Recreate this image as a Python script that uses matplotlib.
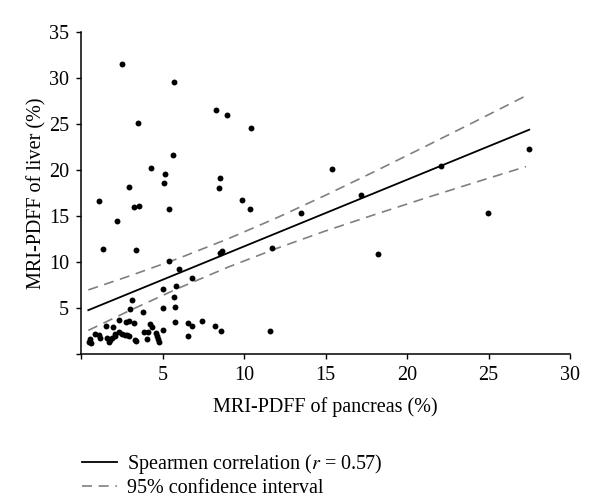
import numpy as np
import matplotlib
matplotlib.use("Agg")
import matplotlib.pyplot as plt

plt.rcParams['font.family'] = ['Liberation Serif', 'DejaVu Serif']
plt.rcParams['mathtext.fontset'] = 'stix'

# scatter points (pancreas %, liver %)
pancreas = [2.5, 5.72, 8.26, 8.94, 10.4, 3.5, 5.64, 4.3, 5.17, 5.07, 8.5, 8.47, 2.92,
            1.08, 3.25, 3.56, 5.4, 9.88, 10.35, 2.2, 15.38, 13.5, 17.2, 22.1, 27.5,
            24.97, 18.2, 11.7, 11.6,
            1.33, 3.36, 5.4, 6.0, 8.5, 8.62, 6.82, 5.0, 5.84, 3.13, 2.98, 3.83, 5.0,
            5.69, 5.79,
            2.33, 1.55, 1.96, 2.77, 2.95, 3.28, 4.26, 4.38, 5.76, 6.57, 6.78, 7.41,
            8.22, 8.56, 6.57, 5.06, 3.85, 4.12, 4.03, 3.3, 3.4, 2.35, 2.5, 2.68, 2.82,
            2.96, 2.1, 1.6, 1.7, 1.8, 1.92, 2.1, 1.1, 0.88, 1.15, 0.55, 0.47, 0.62,
            4.58, 4.68, 4.75, 4.8]
liver = [31.55, 29.6, 26.5, 26.0, 24.6, 25.1, 21.7, 20.25, 19.6, 18.65, 19.2, 18.1, 18.15,
         16.6, 16.0, 16.05, 15.8, 16.8, 15.8, 14.45, 20.1, 15.3, 17.25, 20.5, 22.3,
         15.36, 10.9, 11.55, 2.5,
         11.4, 11.3, 10.15, 9.3, 10.95, 11.2, 8.3, 7.1, 7.4, 5.85, 4.9, 4.56, 5.02,
         6.25, 5.1,
         3.68, 3.04, 3.0, 3.5, 3.57, 3.33, 3.3, 2.9, 3.45, 3.38, 3.08, 3.6,
         3.04, 2.46, 1.99, 2.6, 2.35, 2.45, 1.66, 1.55, 1.4, 2.45, 2.2, 2.1, 2.05,
         1.98, 2.2, 1.7, 1.35, 1.55, 1.7, 1.95, 2.1, 2.2, 1.7, 1.6, 1.3, 1.25,
         2.25, 1.95, 1.65, 1.35]

# fitted line and confidence band, read at a few x positions
fit_x = [0.45, 27.5]
fit_y = [4.78, 24.4]
ci_x = [0.45, 3, 6, 9, 12, 15, 18, 21, 24, 27.3]
ci_upper = [6.98, 8.51, 10.42, 12.52, 14.81, 17.27, 19.84, 22.47, 25.13, 28.09]
ci_lower = [2.58, 4.75, 7.18, 9.44, 11.49, 13.39, 15.16, 16.89, 18.57, 20.39]

xticks = [0, 5, 10, 15, 20, 25, 30]
xlabels = ['', '5', '10', '15', '20', '25', '30']
yticks = [0, 5, 10, 15, 20, 25, 30, 35]
ylabels = ['', '5', '10', '15', '20', '25', '30', '35']

fig = plt.figure(figsize=(6, 5.03), dpi=100)
ax = fig.add_axes([0.135, 0.296, 0.815, 0.64])

ax.scatter(pancreas, liver, s=18, color='black', zorder=3, linewidths=0)
l1, = ax.plot(fit_x, fit_y, color='black', lw=1.3)
l2, = ax.plot(ci_x, ci_upper, color='#808080', lw=1.2, dashes=(6, 4))
ax.plot(ci_x, ci_lower, color='#808080', lw=1.2, dashes=(6, 4))

ax.set_xlim(0, 30)
ax.set_ylim(0, 35)
ax.set_xticks(xticks)
ax.set_xticklabels(xlabels)
ax.set_yticks(yticks)
ax.set_yticklabels(ylabels)
ax.spines['top'].set_visible(False)
ax.spines['right'].set_visible(False)
for s in ['left', 'bottom']:
    ax.spines[s].set_linewidth(1.1)
ax.tick_params(direction='out', length=3.5, width=1.0, labelsize=14.5, pad=5)
ax.set_xlabel('MRI-PDFF of pancreas (%)', fontsize=14.5, labelpad=9)
ax.set_ylabel('MRI-PDFF of liver (%)', fontsize=14.5, labelpad=2)

fig.legend([l1, l2], ['Spearmen correlation ($r$ = 0.57)', '95% confidence interval'],
           loc='upper left', bbox_to_anchor=(0.137, 0.102), frameon=False,
           fontsize=14.5, handlelength=1.75, handletextpad=0.45, labelspacing=0.15,
           borderaxespad=0, borderpad=0)

fig.savefig('out.png', dpi=100)
